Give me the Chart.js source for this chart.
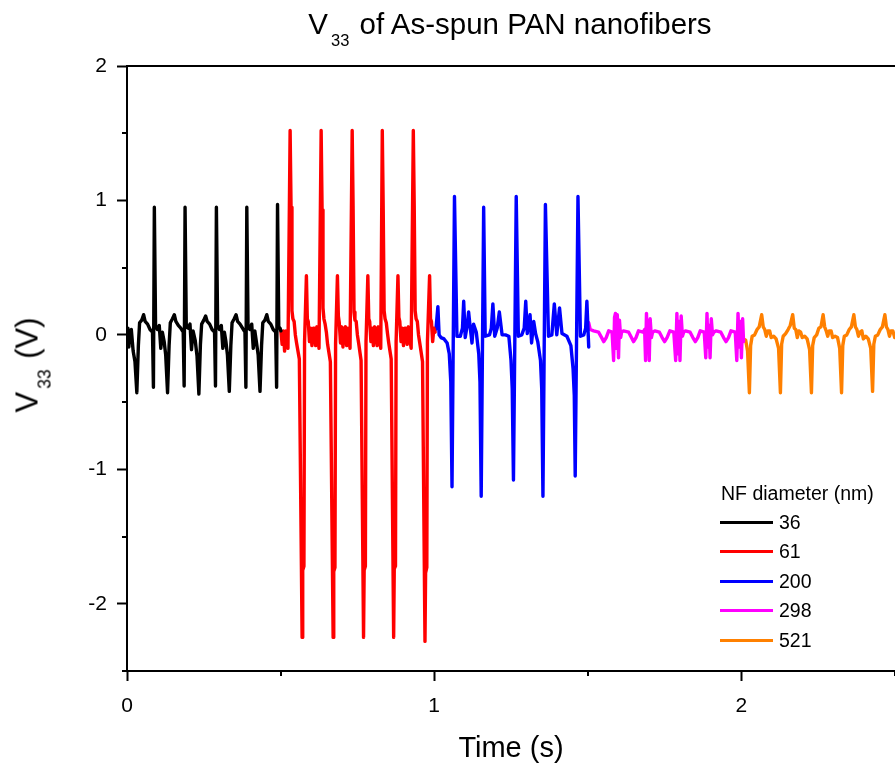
<!DOCTYPE html>
<html>
<head>
<meta charset="utf-8">
<script src="https://cdn.jsdelivr.net/npm/chart.js@4.4.0/dist/chart.umd.min.js"></script>
<style>
html,body{margin:0;padding:0;background:#fff;overflow:hidden}
#wrap{position:relative;width:895px;height:767px;overflow:hidden;font-family:"Liberation Sans",Arial,sans-serif;color:#000}
#c{position:absolute;left:0;top:0}
#title{position:absolute;left:0;width:1020px;top:9px;text-align:center;font-size:29.5px;line-height:30px;white-space:nowrap}
#title sub{font-size:16.5px;vertical-align:-12px;line-height:0;margin:0 2px 0 3px}
#ytitle{position:absolute;left:28px;top:365px;transform:translate(-50%,-50%) rotate(-90deg);font-size:31px;line-height:31px;white-space:nowrap}
#ytitle sub{font-size:17.5px;vertical-align:-13px;line-height:0;margin:0 2px 0 3px}
#legend{position:absolute;left:0;top:0;font-size:19.5px}
.lt{position:absolute;left:721px;top:482px;line-height:22px;white-space:nowrap}
.lr{position:absolute;left:720px;height:30px;display:flex;align-items:center;white-space:nowrap}
.ll{display:inline-block;width:53px;height:3px;margin-right:6px}
</style>
</head>
<body>
<div id="wrap">
<canvas id="c" width="895" height="767"></canvas>
<div id="title">V<sub>33</sub> of As-spun PAN nanofibers</div>
<div id="ytitle">V<sub>33</sub> (V)</div>
<div id="legend"></div>
</div>
<script>
// ---------- data ----------
const legendTitle = 'NF diameter (nm)';
const seriesNames = ['36', '61', '200', '298', '521'];
const xTitle = 'Time (s)';
const minorXTicks = [0.5, 1.5, 2.5];
const minorYTicks = [1.5, 0.5, -0.5, -1.5, -2.5];

// 36 nm (black)
const t36 = [0.000,0.003,0.006,0.009,0.014,0.020,0.026,0.032,
 0.037,0.041,0.048,0.054,0.059,0.067,0.075,0.083,0.086,0.089,0.093,0.099,0.105,0.110,0.115,0.121,0.126,0.132,
 0.137,0.141,0.148,0.154,0.159,0.167,0.175,0.183,0.186,0.189,0.193,0.199,0.205,0.210,0.215,0.222,0.228,0.234,
 0.239,0.243,0.250,0.256,0.261,0.269,0.277,0.285,0.288,0.291,0.295,0.301,0.307,0.312,0.317,0.322,0.327,0.333,
 0.338,0.342,0.349,0.355,0.360,0.368,0.376,0.384,0.387,0.390,0.394,0.400,0.406,0.411,0.416,0.421,0.427,0.433,
 0.438,0.442,0.449,0.455,0.460,0.468,0.476,0.484,0.487,0.490,0.494,0.498,0.501];
const v36 = [0.03,0.05,-0.09,0.02,0.04,-0.12,-0.20,-0.43,
 -0.08,0.09,0.11,0.15,0.10,0.08,0.04,0.02,-0.39,0.95,0.07,0.04,0.07,-0.10,0.02,-0.05,-0.15,-0.43,
 -0.08,0.09,0.12,0.15,0.10,0.07,0.05,0.02,-0.38,0.95,0.06,0.05,0.08,-0.11,0.03,-0.04,-0.16,-0.44,
 -0.07,0.08,0.11,0.14,0.10,0.08,0.04,0.02,-0.38,0.95,0.07,0.04,0.07,-0.10,0.02,-0.05,-0.15,-0.42,
 -0.08,0.09,0.12,0.15,0.10,0.08,0.05,0.02,-0.39,0.95,0.06,0.04,0.08,-0.10,0.03,-0.05,-0.15,-0.42,
 -0.08,0.09,0.11,0.15,0.10,0.08,0.04,0.02,-0.39,0.97,0.06,0.05,0.03];

// 61 nm (red)
const t61 = [0.501,0.505,0.509,0.513,0.517,0.524,
 0.531,0.534,0.537,0.540,0.544,0.548,0.552,0.561,0.570,0.572,0.576,0.578,0.584,0.587,0.590,0.594,0.598,0.602,0.606,0.610,0.614,0.618,0.622,0.625,
 0.632,0.635,0.638,0.641,0.645,0.649,0.653,0.662,0.671,0.673,0.677,0.679,0.685,0.688,0.691,0.695,0.699,0.703,0.707,0.711,0.715,0.719,0.723,0.726,
 0.733,0.736,0.739,0.742,0.746,0.750,0.754,0.762,0.770,0.772,0.776,0.778,0.784,0.787,0.790,0.794,0.798,0.802,0.806,0.810,0.814,0.818,0.822,0.826,
 0.831,0.834,0.837,0.840,0.844,0.848,0.852,0.860,0.868,0.870,0.874,0.876,0.882,0.885,0.888,0.892,0.896,0.900,0.904,0.908,0.912,0.916,0.920,0.925,
 0.932,0.935,0.938,0.941,0.945,0.949,0.953,0.962,0.970,0.972,0.976,0.978,0.985,0.988,0.991,0.995,0.999,1.003];
const v61 = [0.03,-0.07,0.03,-0.12,0.03,-0.10,
 1.52,0.95,0.18,0.12,0.10,0.00,-0.06,-0.18,-2.25,-1.75,-1.72,-0.05,0.44,0.12,0.10,-0.05,0.05,-0.08,0.05,0.05,-0.08,0.06,-0.02,-0.10,
 1.52,0.93,0.20,0.12,0.08,0.02,-0.07,-0.20,-2.25,-1.76,-1.73,-0.06,0.44,0.14,0.09,-0.06,0.06,-0.09,0.04,0.06,-0.08,0.05,-0.03,-0.10,
 1.52,0.95,0.17,0.11,0.10,0.00,-0.06,-0.19,-2.25,-1.75,-1.72,-0.05,0.44,0.12,0.10,-0.05,0.05,-0.08,0.06,0.04,-0.08,0.06,-0.02,-0.10,
 1.52,0.94,0.18,0.12,0.09,0.01,-0.06,-0.18,-2.25,-1.74,-1.72,-0.05,0.44,0.13,0.10,-0.05,0.05,-0.08,0.05,0.05,-0.07,0.06,-0.02,-0.10,
 1.52,0.95,0.18,0.12,0.10,0.00,-0.06,-0.20,-2.28,-1.77,-1.73,-0.05,0.44,0.12,0.10,-0.05,0.05,0.02];

// 200 nm (blue)
const t200 = [1.000,1.006,1.012,1.016,1.022,1.032,1.042,1.049,1.054,1.058,1.066,
 1.074,1.085,1.092,1.096,1.101,1.108,1.112,1.117,1.123,1.128,1.137,1.145,1.149,1.153,1.161,
 1.166,1.180,1.186,1.191,1.197,1.205,1.212,1.221,1.232,1.243,1.250,1.254,1.258,1.267,
 1.274,1.285,1.293,1.298,1.303,1.312,1.317,1.324,1.330,1.337,1.346,1.350,1.354,1.362,
 1.372,1.383,1.391,1.399,1.408,1.416,1.432,1.445,1.452,1.456,1.459,1.468,
 1.476,1.487,1.493,1.497,1.503];
const v200 = [0.02,0.05,0.21,0.00,-0.02,-0.03,-0.06,-0.14,-0.35,-1.13,1.03,
 -0.01,-0.01,0.05,0.25,-0.02,0.08,0.17,0.06,-0.06,0.08,0.02,-0.14,-0.35,-1.20,0.95,
 -0.01,0.00,0.05,0.23,-0.01,0.05,0.17,0.00,0.00,-0.01,-0.19,-0.40,-1.08,1.03,
 -0.01,0.00,0.05,0.25,0.01,0.15,-0.06,0.10,0.01,-0.05,-0.19,-0.40,-1.20,0.97,
 -0.01,0.00,0.23,0.00,0.20,0.01,-0.01,-0.08,-0.25,-0.45,-1.05,1.03,
 -0.01,0.00,0.05,0.25,-0.09];

// 298 nm (magenta)
const t298 = [1.503,1.508,1.519,1.535,1.545,1.552,1.560,1.568,1.579,
 1.584,1.587,1.590,1.593,1.596,1.600,1.603,1.607,1.610,
 1.616,1.633,1.642,1.649,1.657,1.665,1.680,
 1.685,1.688,1.691,1.694,1.697,1.700,1.703,1.707,1.711,
 1.718,1.733,1.742,1.750,1.758,1.767,1.780,
 1.786,1.790,1.793,1.797,1.800,1.804,1.808,1.812,
 1.818,1.833,1.842,1.850,1.858,1.866,1.879,
 1.884,1.888,1.891,1.895,1.898,1.902,1.906,1.910,
 1.918,1.933,1.942,1.950,1.958,1.966,1.980,
 1.985,1.989,1.993,1.997,2.000,2.004,2.007];
const v298 = [0.09,0.04,0.03,0.02,-0.02,-0.05,-0.02,0.03,0.02,
 -0.19,0.13,0.16,-0.10,0.15,-0.17,0.11,-0.02,0.02,
 0.03,0.02,-0.02,-0.05,-0.02,0.03,0.02,
 0.04,-0.19,0.16,-0.08,0.10,-0.19,0.12,-0.02,0.02,
 0.03,0.02,-0.02,-0.05,-0.02,0.03,0.02,
 -0.19,0.16,-0.14,0.10,-0.19,0.14,-0.01,0.02,
 0.03,0.02,-0.02,-0.05,-0.02,0.03,0.02,
 -0.17,0.16,-0.09,0.07,-0.17,0.12,0.00,0.02,
 0.03,0.02,-0.02,-0.05,-0.02,0.03,0.02,
 -0.19,0.16,-0.09,0.10,-0.17,0.12,-0.05];

// 521 nm (orange)
const t521 = [2.007,2.014,2.020,2.026,
 2.030,2.035,2.043,2.051,2.058,2.066,2.071,2.076,2.081,2.086,2.092,2.097,2.105,2.113,2.121,2.127,
 2.131,2.136,2.144,2.152,2.159,2.167,2.172,2.177,2.182,2.187,2.193,2.198,2.206,2.214,2.222,2.228,
 2.232,2.237,2.245,2.252,2.259,2.266,2.271,2.276,2.281,2.286,2.292,2.297,2.305,2.313,2.320,2.326,
 2.330,2.335,2.343,2.351,2.358,2.366,2.371,2.376,2.381,2.386,2.392,2.397,2.405,2.413,2.421,2.427,
 2.431,2.436,2.444,2.452,2.459,2.467,2.472,2.477,2.482,2.487,2.493,2.499,2.505];
const v521 = [-0.03,-0.04,-0.12,-0.43,
 -0.08,-0.01,0.00,0.04,0.06,0.15,0.06,0.04,-0.01,0.03,0.03,-0.02,-0.01,-0.03,-0.10,-0.43,
 -0.07,-0.01,0.01,0.04,0.07,0.15,0.05,0.04,-0.02,0.03,0.02,-0.02,-0.01,-0.03,-0.11,-0.43,
 -0.08,-0.02,0.00,0.05,0.06,0.15,0.06,0.03,-0.01,0.03,0.03,-0.02,-0.01,-0.02,-0.10,-0.43,
 -0.08,-0.01,0.00,0.04,0.06,0.15,0.06,0.04,-0.01,0.02,0.03,-0.03,-0.01,-0.03,-0.10,-0.42,
 -0.07,-0.01,0.00,0.04,0.06,0.15,0.06,0.04,-0.01,0.03,0.03,-0.02,-0.01];

// ---------- styles ----------
const seriesColors = ['#000000', '#ff0000', '#0000ff', '#ff00ff', '#ff8000'];
const seriesTimes = [t36, t61, t200, t298, t521];
const seriesValues = [v36, v61, v200, v298, v521];
const FONT = '"Liberation Sans", Arial, sans-serif';

function toPoints(ts, vs) {
  const n = Math.min(ts.length, vs.length);
  const out = [];
  for (let i = 0; i < n; i++) out.push({x: ts[i], y: vs[i]});
  return out;
}

const datasets = seriesNames.map((name, i) => ({
  label: name,
  data: toPoints(seriesTimes[i], seriesValues[i]),
  borderColor: seriesColors[i],
  backgroundColor: seriesColors[i],
  borderWidth: 3.4,
  borderJoinStyle: 'round',
  borderCapStyle: 'round',
  pointRadius: 0,
  tension: 0,
  fill: false
}));

const framePlugin = {
  id: 'frame',
  afterDraw(chart) {
    const {ctx, chartArea: a, scales: {x, y}} = chart;
    ctx.save();
    ctx.strokeStyle = '#000';
    ctx.lineWidth = 2;
    ctx.beginPath();
    ctx.moveTo(a.left - 1, a.top);
    ctx.lineTo(a.right, a.top);
    minorXTicks.forEach(v => {
      const px = Math.round(x.getPixelForValue(v));
      ctx.moveTo(px, a.bottom);
      ctx.lineTo(px, a.bottom + 5);
    });
    minorYTicks.forEach(v => {
      const py = Math.round(y.getPixelForValue(v));
      ctx.moveTo(a.left, py);
      ctx.lineTo(a.left - 5, py);
    });
    ctx.stroke();
    ctx.restore();
  }
};

new Chart(document.getElementById('c'), {
  type: 'line',
  data: {datasets},
  options: {
    responsive: false,
    devicePixelRatio: 1,
    animation: false,
    layout: {padding: {top: 66, left: 0, right: 0, bottom: 0}},
    plugins: {legend: {display: false}, title: {display: false}, tooltip: {enabled: false}},
    scales: {
      x: {
        type: 'linear',
        min: 0, max: 2.5,
        afterFit: s => { s.height = 96; },
        border: {display: true, color: '#000', width: 2},
        grid: {drawOnChartArea: false, drawTicks: true, tickLength: 10, tickWidth: 2, tickColor: '#000'},
        ticks: {stepSize: 1, includeBounds: false, color: '#000', padding: 13, maxRotation: 0,
                font: {family: FONT, size: 21}},
        title: {display: true, text: xTitle, color: '#000', font: {family: FONT, size: 29}, padding: {top: 0, bottom: 1}}
      },
      y: {
        type: 'linear',
        min: -2.5, max: 2,
        afterFit: s => { s.width = 127; },
        border: {display: true, color: '#000', width: 2},
        grid: {drawOnChartArea: false, drawTicks: true, tickLength: 10, tickWidth: 2, tickColor: '#000'},
        ticks: {stepSize: 1, includeBounds: false, color: '#000', padding: 10,
                font: {family: FONT, size: 21}}
      }
    }
  },
  plugins: [framePlugin]
});

// legend (HTML)
const lg = document.getElementById('legend');
const lt = document.createElement('div');
lt.className = 'lt';
lt.textContent = legendTitle;
lg.appendChild(lt);
seriesNames.forEach((name, i) => {
  const row = document.createElement('div');
  row.className = 'lr';
  row.style.top = (507 + i * 29.5) + 'px';
  const line = document.createElement('span');
  line.className = 'll';
  line.style.background = seriesColors[i];
  const txt = document.createElement('span');
  txt.textContent = name;
  row.appendChild(line);
  row.appendChild(txt);
  lg.appendChild(row);
});
</script>
</body>
</html>
